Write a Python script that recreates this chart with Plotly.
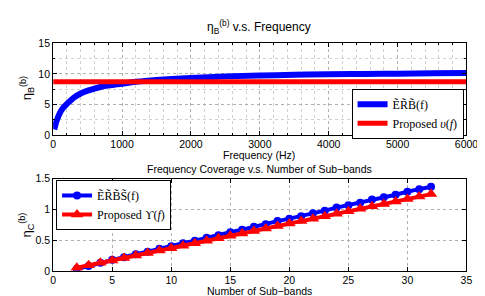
import plotly.graph_objects as go

# ---- data: top panel ----
freq_hz = [15, 25, 50, 100, 150, 200, 250, 300, 400, 500, 600, 700, 800, 900,
           1000, 1200, 1500, 2000, 2500, 3000, 3500, 4000, 4500, 5000, 5500, 6000]
erb_eta = [0.9, 1.3, 2.3, 3.65, 4.5, 5.1, 5.6, 6.1, 6.8, 7.25, 7.6, 7.9, 8.1, 8.25,
           8.4, 8.7, 9.0, 9.35, 9.6, 9.75, 9.85, 9.95, 10.0, 10.05, 10.1, 10.15]
prop_freq = [0, 6000]
prop_eta = [8.7, 8.7]

# ---- data: bottom panel ----
n_bands = list(range(2, 33))
erbs_cov = [0.03, 0.08, 0.13, 0.18, 0.22, 0.27, 0.31, 0.36, 0.40, 0.45, 0.49,
            0.54, 0.58, 0.63, 0.67, 0.72, 0.76, 0.81, 0.85, 0.89, 0.94, 0.98,
            1.03, 1.07, 1.11, 1.16, 1.20, 1.24, 1.29, 1.33, 1.37]
prop_cov = [0.05, 0.09, 0.13, 0.17, 0.21, 0.25, 0.29, 0.33, 0.37, 0.41, 0.45,
            0.49, 0.53, 0.57, 0.61, 0.65, 0.69, 0.73, 0.77, 0.81, 0.85, 0.89,
            0.93, 0.97, 1.01, 1.05, 1.09, 1.13, 1.17, 1.21, 1.25]

W, H = 485, 296
SANS = "Liberation Sans, Arial, sans-serif"
SERIF = "Liberation Serif, DejaVu Serif, serif"

def px(x):
    return x / W

def py(y):
    return (H - y) / H

fig = go.Figure()

fig.add_trace(go.Scatter(x=freq_hz, y=erb_eta, mode="lines",
                         line=dict(color="#0000ff", width=6, shape="spline"),
                         name="E\u0303R\u0303B\u0303(f)", legend="legend",
                         xaxis="x", yaxis="y"))
fig.add_trace(go.Scatter(x=prop_freq, y=prop_eta, mode="lines",
                         line=dict(color="#ff0000", width=5),
                         name="Proposed <i>\u03c5</i>(<i>f</i>)", legend="legend",
                         xaxis="x", yaxis="y"))

fig.add_trace(go.Scatter(x=n_bands, y=erbs_cov, mode="lines+markers",
                         line=dict(color="#0000ff", width=4),
                         marker=dict(symbol="circle", size=8, color="#0000ff"),
                         name="E\u0303R\u0303B\u0303S\u0303(f)", legend="legend2",
                         xaxis="x2", yaxis="y2"))
fig.add_trace(go.Scatter(x=n_bands, y=prop_cov, mode="lines+markers",
                         line=dict(color="#ff0000", width=4),
                         marker=dict(symbol="triangle-up", size=11, color="#ff0000"),
                         name="Proposed \u03d2(<i>f</i>)", legend="legend2",
                         xaxis="x2", yaxis="y2"))

x0, x1 = px(43.5), px(470)
top_y = [py(126), py(30.7)]
bot_y = [py(267.7), py(171.7)]

axis_common = dict(showline=True, linecolor="black", linewidth=1, mirror="allticks",
                   ticks="inside", ticklen=4, tickcolor="black",
                   showgrid=True, gridcolor="#b0b0b0", griddash="dot", gridwidth=1,
                   zeroline=False, tickfont=dict(family=SANS, size=10.5, color="black"))

fig.update_layout(
    width=W, height=H, margin=dict(l=0, r=0, t=0, b=0),
    paper_bgcolor="white", plot_bgcolor="white",
    font=dict(family=SANS, size=11, color="black"),
    xaxis=dict(domain=[x0, x1], anchor="y", range=[0, 6000], dtick=1000,
               minor=dict(dtick=200, showgrid=True, gridcolor="#d0d0d0",
                          griddash="dot", ticks="inside", ticklen=2, tickcolor="black"),
               **axis_common),
    yaxis=dict(domain=top_y, anchor="x", range=[0, 15], dtick=5,
               minor=dict(dtick=2.5, showgrid=True, gridcolor="#d0d0d0",
                          griddash="dot", ticks="inside", ticklen=2, tickcolor="black"),
               **axis_common),
    xaxis2=dict(domain=[x0, x1], anchor="y2", range=[0, 35], dtick=5, **axis_common),
    yaxis2=dict(domain=bot_y, anchor="x2", range=[0, 1.5], dtick=0.5, **axis_common),
    legend=dict(x=px(467), y=py(78), xanchor="right", yanchor="top",
                bgcolor="white", bordercolor="black", borderwidth=1,
                font=dict(family=SERIF, size=12, color="black"),
                tracegroupgap=0, itemwidth=30),
    legend2=dict(x=px(46.5), y=py(173), xanchor="left", yanchor="top",
                 bgcolor="white", bordercolor="black", borderwidth=1,
                 font=dict(family=SERIF, size=12, color="black"),
                 tracegroupgap=0, itemwidth=30),
    showlegend=True,
)

annots = [
    dict(text="\u03b7<sub>B</sub><sup>(b)</sup> v.s. Frequency", x=px(256), y=py(14), size=12),
    dict(text="Frequency (Hz)", x=px(256), y=py(147), size=10.5),
    dict(text="Frequency Coverage v.s. Number of Sub\u2212bands", x=px(256), y=py(161.5), size=10.5),
    dict(text="Number of Sub\u2212bands", x=px(256), y=py(288.6), size=10.5),
]
for a in annots:
    sz = a.pop("size")
    fig.add_annotation(xref="paper", yref="paper", showarrow=False,
                       xanchor="center", yanchor="middle", borderpad=0,
                       font=dict(family=SANS, size=sz, color="black"), **a)

fig.add_annotation(text="\u03b7<sub>B</sub><sup>(b)</sup>", x=px(16), y=py(78),
                   xref="paper", yref="paper", showarrow=False, textangle=-90,
                   xanchor="center", yanchor="middle",
                   font=dict(family=SANS, size=13, color="black"))
fig.add_annotation(text="\u03b7<sub>C</sub><sup>(b)</sup>", x=px(16), y=py(220),
                   xref="paper", yref="paper", showarrow=False, textangle=-90,
                   xanchor="center", yanchor="middle",
                   font=dict(family=SANS, size=13, color="black"))

fig.write_html("out.html")
